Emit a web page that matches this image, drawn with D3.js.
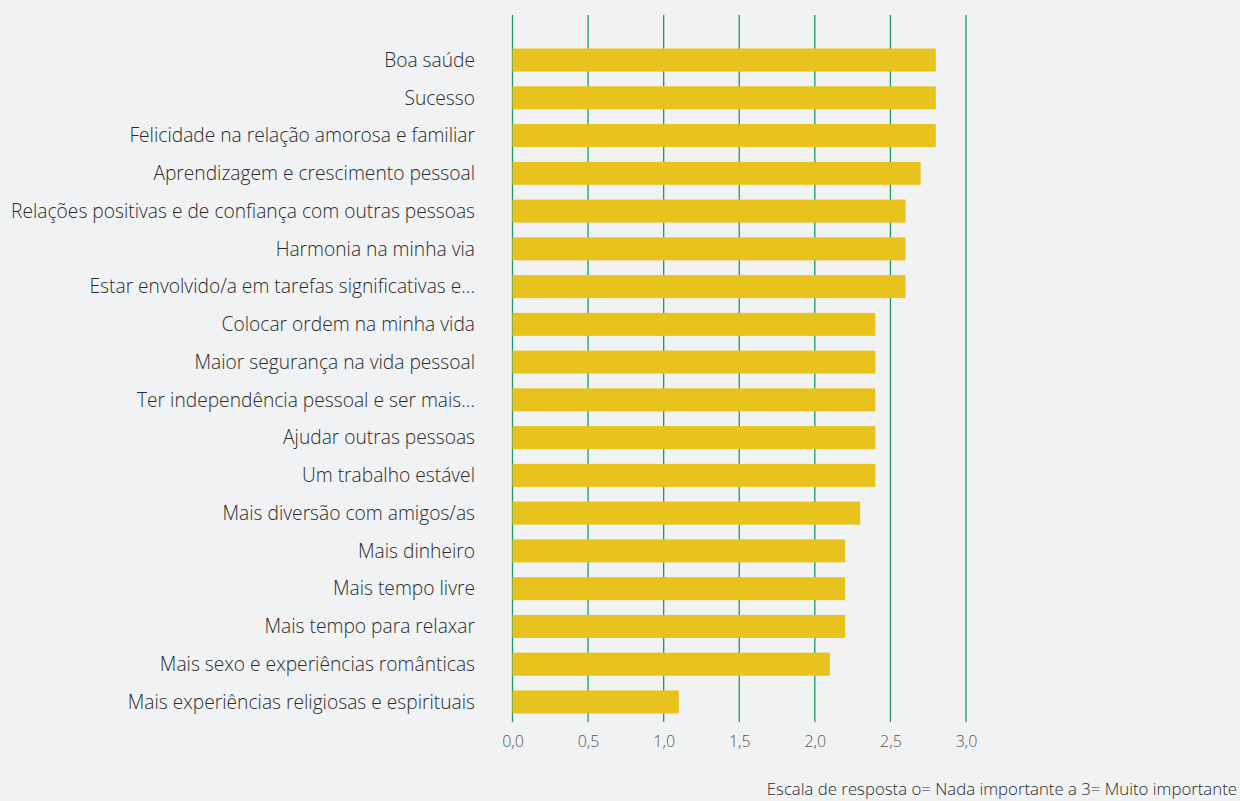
<!DOCTYPE html>
<html lang="pt">
<head>
    <meta charset="UTF-8">
    <title>Importância</title>
    <script src="https://d3js.org/d3.v7.min.js"></script>
    <style>
        body { margin: 0; background-color: #f1f2f4; font-family: "Open Sans", Lato, sans-serif; }
        svg { display: block; }
        .label { fill: #2b2b2b; font-size: 19.2px; font-weight: 300; }
        .tick text { fill: #555; font-size: 16px; font-weight: 300; }
        .note { fill: #2b2b2b; font-size: 16.8px; font-weight: 300; }
    </style>
</head>
<body>
    <svg></svg>
    <script>
        const width = 1240, height = 801;

        const categories = [
            "Boa saúde",
            "Sucesso",
            "Felicidade na relação amorosa e familiar",
            "Aprendizagem e crescimento pessoal",
            "Relações positivas e de confiança com outras pessoas",
            "Harmonia na minha via",
            "Estar envolvido/a em tarefas significativas e...",
            "Colocar ordem na minha vida",
            "Maior segurança na vida pessoal",
            "Ter independência pessoal e ser mais...",
            "Ajudar outras pessoas",
            "Um trabalho estável",
            "Mais diversão com amigos/as",
            "Mais dinheiro",
            "Mais tempo livre",
            "Mais tempo para relaxar",
            "Mais sexo e experiências românticas",
            "Mais experiências religiosas e espirituais"
        ];
        const values = [2.8, 2.8, 2.8, 2.7, 2.6, 2.6, 2.6, 2.4, 2.4, 2.4, 2.4, 2.4, 2.3, 2.2, 2.2, 2.2, 2.1, 1.1];
        const ticks = [0, 0.5, 1, 1.5, 2, 2.5, 3];
        const note = "Escala de resposta o= Nada importante a 3= Muito importante";

        const svg = d3.select("svg").attr("width", width).attr("height", height);

        const x = d3.scaleLinear().domain([0, 3]).range([512.5, 966]);
        const y = d3.scaleBand().domain(categories).range([41, 721]).paddingInner(0.39).paddingOuter(0.2);

        // gridlines
        svg.append("g").selectAll("line")
            .data(ticks)
            .join("line")
            .attr("x1", d => x(d)).attr("x2", d => x(d))
            .attr("y1", 15).attr("y2", 722)
            .attr("stroke", "#1f9a5e")
            .attr("stroke-width", 1.3);

        // bars
        svg.append("g").selectAll("rect")
            .data(values)
            .join("rect")
            .attr("x", x(0))
            .attr("y", (d, i) => y(categories[i]))
            .attr("width", d => x(d) - x(0))
            .attr("height", y.bandwidth())
            .attr("fill", "#e8c31e");

        // category labels
        svg.append("g").selectAll("text")
            .data(categories)
            .join("text")
            .attr("class", "label")
            .attr("x", 475)
            .attr("y", d => y(d) + y.bandwidth() / 2)
            .attr("dy", "0.35em")
            .attr("text-anchor", "end")
            .text(d => d);

        // x axis tick labels
        const fmt = d => d3.format(".1f")(d).replace(".", ",");
        const axis = svg.append("g")
            .attr("transform", "translate(0,730)")
            .call(d3.axisBottom(x).tickValues(ticks).tickFormat(fmt).tickSize(0).tickPadding(6));
        axis.select(".domain").remove();
        axis.attr("font-family", null).attr("font-size", null);

        svg.append("text")
            .attr("class", "note")
            .attr("x", 1237)
            .attr("y", 795)
            .attr("text-anchor", "end")
            .text(note);
    </script>
</body>
</html>
